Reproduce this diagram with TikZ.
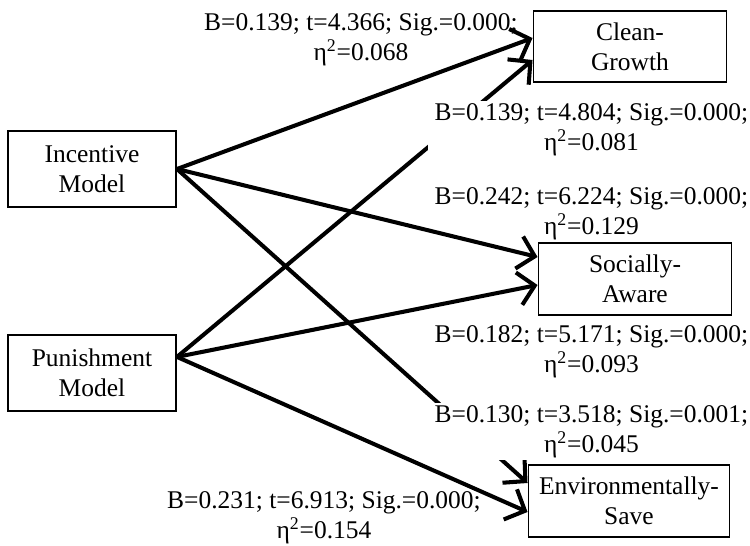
\documentclass[tikz,border=0pt]{standalone}
\usepackage{fontspec}
\setmainfont{Liberation Serif}
\usetikzlibrary{arrows.meta,positioning}
\tikzset{
    model/.style={draw, line width=1.1pt, align=center, font=\fontsize{14.5}{17}\selectfont, minimum width=3.36cm, minimum height=1.52cm, inner sep=2pt},
    outcome/.style={model, minimum width=3.86cm, minimum height=1.43cm},
    effect/.style={line width=2.3pt, -{Straight Barb[length=3.2mm,width=6.6mm,line width=2.3pt]}},
    stat/.style={align=center, font=\fontsize{14.5}{17}\selectfont, inner sep=1pt},
    statcover/.style={stat, fill=white, inner xsep=4pt, inner ysep=1.5pt}
}

\begin{document}
\begin{tikzpicture}
            \useasboundingbox (0,0) rectangle (15,10.9);
            % models
            \node[model] (inc) at (1.84,7.52) {Incentive\\Model};
            \node[model, below=2.52cm of inc] (pun) {Punishment\\Model};
            % outcomes
            \node[outcome] (clean) at (12.6,9.97) {Clean-\\Growth};
            \node[outcome] (social) at (12.7,5.32) {Socially-\\Aware};
            \node[outcome, minimum width=4.02cm] (env) at (12.58,0.88) {Environmentally-\\Save};
            \draw[effect] (inc.east) -- ([yshift=0.17cm]clean.west);
            \draw[effect] (inc.east) -- ([yshift=0.44cm]social.west);
            \draw[effect] (inc.east) -- ([yshift=0.36cm]env.west);
            \draw[effect] ([yshift=0.32cm]pun.east) -- ([yshift=-0.27cm]clean.west);
            \draw[effect] ([yshift=0.32cm]pun.east) -- ([yshift=-0.12cm]social.west);
            \draw[effect] ([yshift=0.32cm]pun.east) -- ([yshift=-0.22cm]env.west);
            % coefficients
            \node[stat] (c1) at (7.22,10.11) {B=0.139; t=4.366; Sig.=0.000;\\η\textsuperscript{2}=0.068};
            \node[statcover] (c2) at (11.83,8.3) {B=0.139; t=4.804; Sig.=0.000;\\η\textsuperscript{2}=0.081};
            \node[stat] (c3) at (11.83,6.63) {B=0.242; t=6.224; Sig.=0.000;\\η\textsuperscript{2}=0.129};
            \node[stat] (c4) at (11.83,3.87) {B=0.182; t=5.171; Sig.=0.000;\\η\textsuperscript{2}=0.093};
            \node[statcover] (c5) at (11.83,2.27) {B=0.130; t=3.518; Sig.=0.001;\\η\textsuperscript{2}=0.045};
            \node[stat] (c6) at (6.48,0.54) {B=0.231; t=6.913; Sig.=0.000;\\η\textsuperscript{2}=0.154};
        \end{tikzpicture}
\end{document}
